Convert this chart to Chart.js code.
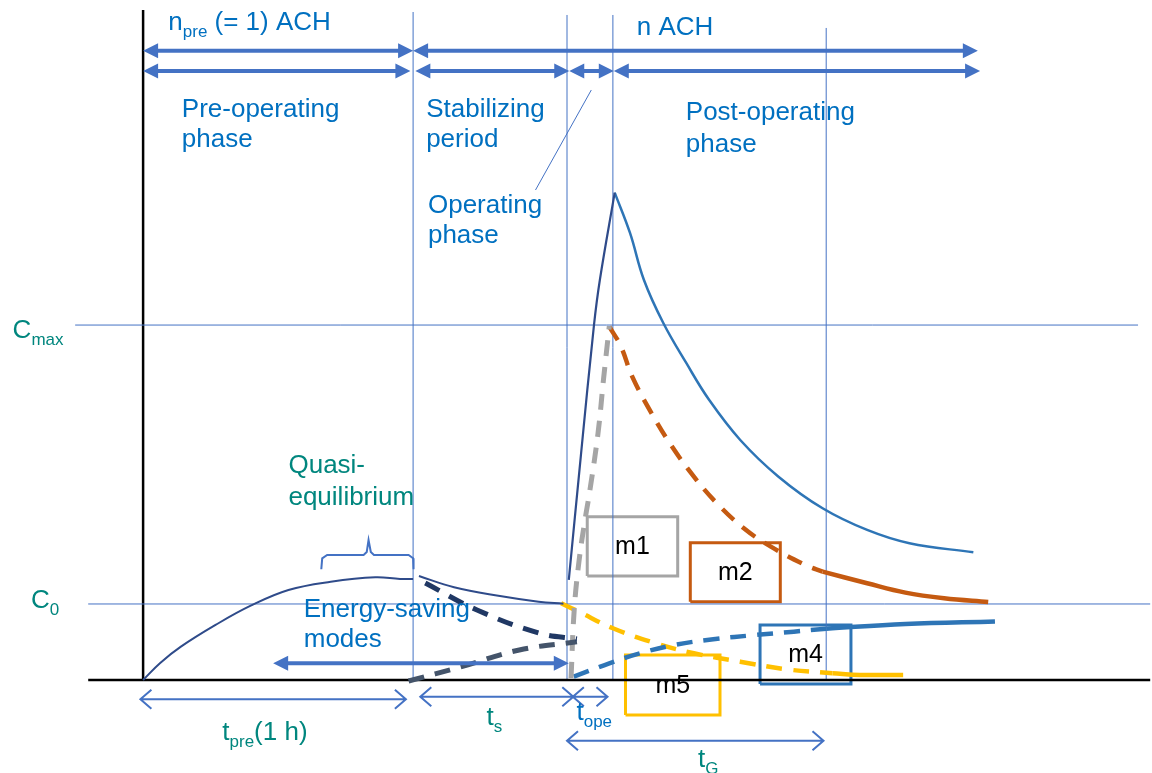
<!DOCTYPE html>
<html>
<head>
<meta charset="utf-8">
<script src="https://cdn.jsdelivr.net/npm/chart.js@4.4.1/dist/chart.umd.min.js"></script>
<style>
  html, body { margin: 0; padding: 0; background: #fff; }
  #wrap { width: 1152px; height: 773px; }
</style>
</head>
<body>
<div id="wrap"><canvas id="phaseChart" width="1152" height="773"></canvas></div>
<script>
// x: time in minutes (t_pre = 1 h = 60 min), y: concentration with C0 = 100
const timeRange = [-31.8, 224.2];
const concRange = [-122.4, 894.7];

const C0 = 100;
const Cmax = 467;

// phase boundaries: end of pre-operating, stabilizing, operating, end of t_G
const boundaryT = [60, 94.2, 104.4, 151.8];
const boundaryTop = [878.9, 875, 875, 857.9];

// concentration without energy-saving
const preT = [0, 3.8, 8.4, 16.1, 23.8, 32.3, 41.7, 51.6, 57.1, 60.0];
const preC = [0, 22.4, 43.8, 72.4, 97.4, 118.4, 129.3, 135.1, 132.9, 132.9];
const stabT = [61.3, 69.1, 79.3, 87.9, 93.4];
const stabC = [136.8, 122.0, 110.5, 103.0, 100.4];
const riseT = [94.6, 97.3, 100.2, 101.5, 104.8];
const riseC = [131.6, 296.1, 467.1, 526.3, 641.2];
const decayT = [104.8, 108.2, 111.3, 115.6, 120.7, 125.8, 132.7, 141.2, 151.0, 160.9, 170.3, 184.5];
const decayC = [641.2, 588.2, 526.3, 469.7, 417.1, 368.4, 315.8, 267.5, 225.9, 197.4, 179.9, 168.0];

// energy-saving modes during the stabilizing period
const saveDownT = [62.7, 74.2, 87.9, 96.4];
const saveDownC = [127.6, 92.1, 61.8, 53.9];
const saveUpT = [59.0, 70.8, 83.6, 96.4];
const saveUpC = [-1.3, 17.5, 39.5, 50.4];

// modes m1, m2, m4, m5
const m1T = [95.1, 95.8, 96.9, 98.2, 99.3, 101.1, 102.3, 103.6];
const m1C = [2.6, 92.1, 157.9, 210.5, 250, 325, 394.7, 465.8];
const m2DashT = [103.6, 106.2, 108.7, 113.0, 117.3, 122.4, 127.5, 133.5, 139.5, 147.2, 151.0];
const m2DashC = [464.9, 438.6, 399.1, 350.9, 309.2, 267.5, 232.5, 199.6, 175.4, 151.3, 142.5];
const m2SolidT = [151.0, 160.9, 169.4, 178.0, 187.8];
const m2SolidC = [142.5, 127.2, 114.9, 107.5, 102.6];
const m4DashT = [95.7, 103.6, 110.4, 118.1, 126.7, 136.1, 144.6, 151.8];
const m4DashC = [4.3, 22.0, 35.1, 46.1, 53.6, 59.2, 63.6, 67.5];
const m4SolidT = [151.8, 169.4, 189.3];
const m4SolidC = [67.5, 73.7, 77.0];
const m5DashT = [92.9, 96.8, 104.4, 113.9, 122.4, 132.7, 142.9, 153.2];
const m5DashC = [100.9, 89.9, 68.0, 48.3, 35.1, 24.1, 14.1, 8.8];
const m5SolidT = [153.2, 159.3, 168.9];
const m5SolidC = [8.8, 6.6, 6.6];

// mode label boxes
const boxNames = ['m1', 'm2', 'm4', 'm5'];
const boxT0 = [98.7, 121.6, 137.1, 107.2];
const boxT1 = [118.8, 141.6, 157.3, 128.2];
const boxC0 = [136.8, 103.0, -5.3, -46.1];
const boxC1 = [214.9, 180.7, 72.4, 32.9];
const boxColors = ['#A5A5A5', '#C55A11', '#2E75B6', '#FFC000'];

// the brace over the quasi-equilibrium
const braceT = [39.6, 39.8, 40.9, 49.0, 49.7, 50.1, 50.6, 51.3, 59.0, 60.0, 60.1];
const braceC = [145.7, 160.1, 164.5, 164.5, 168.4, 184.2, 168.4, 164.5, 164.5, 160.1, 145.7];

// arrows: [from, to, level]
const bigArrows = [[0, 60, 828], [60, 185.5, 828], [0, 59.4, 801.3], [60.5, 94.7, 801.3],
                   [94.7, 104.6, 801.3], [104.6, 186, 801.3], [28.9, 94.6, 22.0]];
const thinArrows = [[-0.6, 58.4, -25.4], [61.6, 95.6, -22.0], [95.5, 103.2, -22.0], [94.2, 151.2, -79.9]];
const leaderT = [99.6, 87.2];
const leaderC = [776.3, 644.7];

const BLUE = '#0070C0';
const TEAL = '#00867E';
const labels = [
  ['n_{pre} (= 1) ACH', 5.6, 855.3, BLUE], ['n ACH', 109.7, 848.7, BLUE],
  ['Pre-operating', 8.6, 741.2, BLUE], ['phase', 8.6, 701.7, BLUE],
  ['Stabilizing', 62.9, 740.4, BLUE], ['period', 62.9, 701.7, BLUE],
  ['Post-operating', 120.6, 736.8, BLUE], ['phase', 120.6, 695.1, BLUE],
  ['Operating', 63.3, 614.1, BLUE], ['phase', 63.3, 574.6, BLUE],
  ['C_{max}', -29.0, 449.6, TEAL], ['C_{0}', -24.9, 94.3, TEAL],
  ['Quasi-', 32.3, 271.9, TEAL], ['equilibrium', 32.3, 230.3, TEAL],
  ['Energy-saving', 35.7, 82.5, BLUE], ['modes', 35.7, 43.0, BLUE],
  ['t_{pre}(1 h)', 17.6, -78.9, TEAL], ['t_{s}', 76.3, -59.2, TEAL],
  ['t_{ope}', 96.3, -52.6, BLUE], ['t_{G}', 123.3, -114.1, TEAL]
];

function pts(ts, cs) {
  return ts.map((t, i) => ({ x: t, y: cs[i] }));
}

function line(ts, cs, color, width, dash, tension) {
  return {
    data: pts(ts, cs),
    showLine: true,
    borderColor: color,
    borderWidth: width,
    borderDash: dash || [],
    tension: tension === undefined ? 0.4 : tension,
    pointRadius: 0,
    fill: false,
    borderCapStyle: 'butt'
  };
}

const datasets = [
  line(preT, preC, '#2F4B8A', 2),
  line(stabT, stabC, '#2F4B8A', 2),
  line(riseT, riseC, '#2F4B8A', 2.2),
  line(decayT, decayC, '#2E75B6', 2.5),
  line(saveDownT, saveDownC, '#203864', 5, [16, 11]),
  line(saveUpT, saveUpC, '#44546A', 5, [16, 11]),
  line(m1T, m1C, '#A5A5A5', 5, [16, 11]),
  line(m2DashT, m2DashC, '#C55A11', 4.5, [16, 11]),
  line(m2SolidT, m2SolidC, '#C55A11', 4.5),
  line(m4DashT, m4DashC, '#2E75B6', 4.5, [16, 11]),
  line(m4SolidT, m4SolidC, '#2E75B6', 4.5),
  line(m5DashT, m5DashC, '#FFC000', 4.5, [16, 11]),
  line(m5SolidT, m5SolidC, '#FFC000', 4.5),
  line(braceT, braceC, '#4472C4', 2, [], 0),
  line(leaderT, leaderC, '#4472C4', 1, [], 0),
  line([-15.1, 221.1], [Cmax, Cmax], '#4472C4', 1, [], 0),
  line([-12.2, 223.8], [C0, C0], '#4472C4', 1, [], 0),
  line([0, 0], [0, 881.6], '#000000', 2.5, [], 0),
  line([-12.2, 223.8], [0, 0], '#000000', 2.5, [], 0)
];

boundaryT.forEach((t, i) => {
  datasets.push(line([t, t], [0, boundaryTop[i]], '#4472C4', 1, [], 0));
});

boxNames.forEach((name, i) => {
  datasets.push(line([boxT0[i], boxT1[i], boxT1[i], boxT0[i], boxT0[i]],
                     [boxC0[i], boxC0[i], boxC1[i], boxC1[i], boxC0[i]],
                     boxColors[i], 3, [], 0));
});

const FONT = 'Arial, "Liberation Sans", sans-serif';

function drawRich(ctx, text, x, y, color) {
  const parts = text.split(/_\{([^}]*)\}/);
  ctx.fillStyle = color;
  ctx.textBaseline = 'alphabetic';
  ctx.textAlign = 'left';
  let cx = x;
  parts.forEach((p, i) => {
    if (!p) return;
    const sub = i % 2 === 1;
    ctx.font = (sub ? '17px ' : '26px ') + FONT;
    ctx.fillText(p, cx, sub ? y + 7 : y);
    cx += ctx.measureText(p).width;
  });
}

const overlay = {
  id: 'overlay',
  afterDatasetsDraw(chart) {
    const { ctx, scales: { x, y } } = chart;
    ctx.save();

    // thick arrows with filled heads
    ctx.fillStyle = '#4472C4';
    ctx.strokeStyle = '#4472C4';
    bigArrows.forEach(([a, b, c]) => {
      const x0 = x.getPixelForValue(a), x1 = x.getPixelForValue(b), yy = y.getPixelForValue(c);
      const hl = 15, hw = 7.5;
      ctx.lineWidth = 4;
      ctx.beginPath();
      ctx.moveTo(x0 + hl - 1, yy);
      ctx.lineTo(x1 - hl + 1, yy);
      ctx.stroke();
      ctx.beginPath();
      ctx.moveTo(x0, yy); ctx.lineTo(x0 + hl, yy - hw); ctx.lineTo(x0 + hl, yy + hw); ctx.closePath();
      ctx.moveTo(x1, yy); ctx.lineTo(x1 - hl, yy - hw); ctx.lineTo(x1 - hl, yy + hw); ctx.closePath();
      ctx.fill();
    });

    // thin arrows with open heads
    thinArrows.forEach(([a, b, c]) => {
      const x0 = x.getPixelForValue(a), x1 = x.getPixelForValue(b), yy = y.getPixelForValue(c);
      ctx.lineWidth = 2;
      ctx.beginPath();
      ctx.moveTo(x0, yy); ctx.lineTo(x1, yy);
      ctx.moveTo(x0 + 11, yy - 9.5); ctx.lineTo(x0, yy); ctx.lineTo(x0 + 11, yy + 9.5);
      ctx.moveTo(x1 - 11, yy - 9.5); ctx.lineTo(x1, yy); ctx.lineTo(x1 - 11, yy + 9.5);
      ctx.stroke();
    });

    // box names
    ctx.fillStyle = '#000';
    ctx.font = '25px ' + FONT;
    ctx.textAlign = 'center';
    ctx.textBaseline = 'middle';
    boxNames.forEach((name, i) => {
      ctx.fillText(name, x.getPixelForValue((boxT0[i] + boxT1[i]) / 2),
                   y.getPixelForValue((boxC0[i] + boxC1[i]) / 2) + 1);
    });

    labels.forEach(([text, t, c, color]) => {
      drawRich(ctx, text, x.getPixelForValue(t), y.getPixelForValue(c), color);
    });
    ctx.restore();
  }
};

new Chart(document.getElementById('phaseChart').getContext('2d'), {
  type: 'scatter',
  data: { datasets: datasets },
  options: {
    responsive: false,
    animation: false,
    events: [],
    layout: { padding: 0 },
    plugins: { legend: { display: false }, tooltip: { enabled: false } },
    scales: {
      x: { type: 'linear', min: timeRange[0], max: timeRange[1], display: false },
      y: { type: 'linear', min: concRange[0], max: concRange[1], display: false }
    }
  },
  plugins: [overlay]
});
</script>
</body>
</html>
